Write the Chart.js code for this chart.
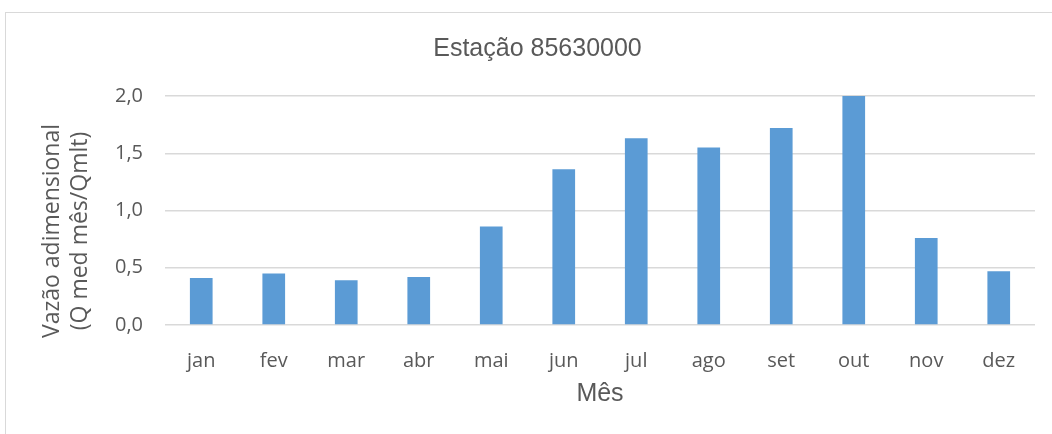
<!DOCTYPE html>
<html>
<head>
<meta charset="utf-8">
<script src="https://cdn.jsdelivr.net/npm/chart.js@4.4.1/dist/chart.umd.min.js"></script>
<style>
  html, body { margin: 0; padding: 0; background: #fff; }
  #wrap { position: relative; width: 1052px; height: 434px; overflow: hidden; }
  #frame { position: absolute; left: 5px; top: 12px; width: 1200px; height: 600px;
           border: 1px solid #d9d9d9; box-sizing: border-box; }
  canvas { position: absolute; left: 0; top: 0; }
</style>
</head>
<body>
<div id="wrap">
  <div id="frame"></div>
  <canvas id="chart" width="1052" height="434"></canvas>
</div>
<script>
const months = ['jan', 'fev', 'mar', 'abr', 'mai', 'jun', 'jul', 'ago', 'set', 'out', 'nov', 'dez'];
const vazao = [0.41, 0.45, 0.39, 0.42, 0.86, 1.36, 1.63, 1.55, 1.72, 2.00, 0.76, 0.47];
const yTicks = [0, 0.5, 1.0, 1.5, 2.0];
const yTitle = ['Vazão adimensional', '(Q med mês/Qmlt)'];

const textColor = '#595959';
const gridColor = '#d9d9d9';

// rotated two-line y axis title, drawn by hand so it can sit a bit below the centre
const yTitlePlugin = {
    id: 'yTitle',
    afterDraw(chart) {
        const ctx = chart.ctx;
        ctx.save();
        ctx.fillStyle = textColor;
        ctx.font = '23px "Open Sans"';
        ctx.textAlign = 'center';
        ctx.textBaseline = 'alphabetic';
        const cy = 231;
        [59, 87].forEach((x, i) => {
            ctx.save();
            ctx.translate(x, cy);
            ctx.rotate(-Math.PI / 2);
            ctx.fillText(yTitle[i], 0, 0);
            ctx.restore();
        });
        ctx.restore();
    }
};

new Chart(document.getElementById('chart'), {
    type: 'bar',
    data: {
        labels: months,
        datasets: [{
            data: vazao,
            backgroundColor: '#5b9bd5',
            categoryPercentage: 1,
            barPercentage: 0.313
        }]
    },
    options: {
        responsive: false,
        animation: false,
        layout: { padding: { left: 40, right: 17, top: 0, bottom: 0 } },
        plugins: {
            legend: { display: false },
            tooltip: { enabled: false },
            title: {
                display: true,
                text: 'Estação 85630000',
                color: textColor,
                font: { family: '"Liberation Sans", Arial', size: 25, weight: 'normal' },
                padding: { top: 34, bottom: 32 }
            }
        },
        scales: {
            x: {
                grid: { display: false },
                border: { display: false },
                ticks: {
                    color: textColor,
                    font: { family: '"Open Sans"', size: 20 },
                    padding: 16,
                    maxRotation: 0
                },
                title: {
                    display: true,
                    text: 'Mês',
                    color: textColor,
                    font: { family: '"Liberation Sans", Arial', size: 25 },
                    padding: { top: 0, bottom: 25 }
                },
                afterFit: s => { s.height = 109; }
            },
            y: {
                min: 0,
                max: 2,
                afterBuildTicks: s => { s.ticks = yTicks.map(v => ({ value: v })); },
                grid: { color: gridColor, lineWidth: 1.4, drawTicks: false },
                border: { display: false },
                ticks: {
                    color: textColor,
                    font: { family: '"Open Sans"', size: 20 },
                    padding: 22,
                    callback: v => v.toFixed(1).replace('.', ',')
                },
                afterFit: s => { s.width = 125; }
            }
        }
    },
    plugins: [yTitlePlugin]
});
</script>
</body>
</html>
